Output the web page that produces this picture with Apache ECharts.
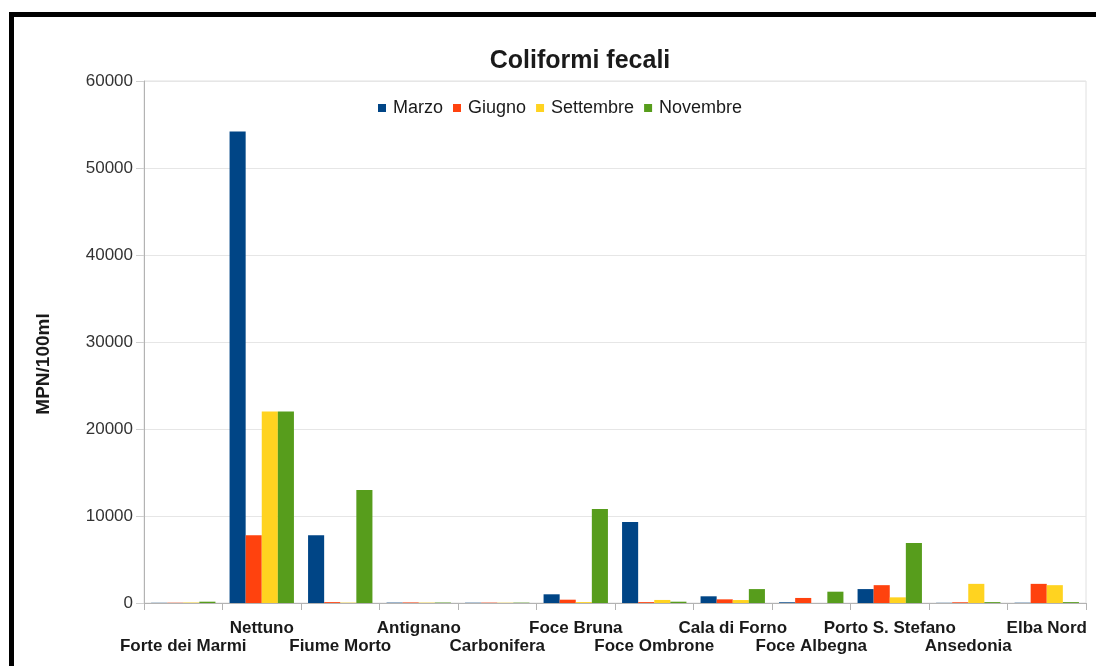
<!DOCTYPE html>
<html>
<head>
<meta charset="utf-8">
<script src="https://cdn.jsdelivr.net/npm/echarts@6/dist/echarts.min.js"></script>
<style>
  html, body { margin: 0; padding: 0; background: #ffffff; }
  #chart { width: 1096px; height: 666px; }
</style>
</head>
<body>
<div id="chart"></div>
<script>
// stazioni di campionamento
const stazioni = ["Forte dei Marmi", "Nettuno", "Fiume Morto", "Antignano", "Carbonifera", "Foce Bruna",
  "Foce Ombrone", "Cala di Forno", "Foce Albegna", "Porto S. Stefano", "Ansedonia", "Elba Nord"];

// MPN/100ml per mese
const marzo     = [20, 54200, 7800, 40, 30, 1000, 9300, 770, 80, 1600, 20, 30];
const giugno    = [30, 7800, 100, 60, 40, 380, 100, 420, 580, 2050, 80, 2200];
const settembre = [50, 22000, 40, 40, 30, 100, 350, 340, 0, 650, 2200, 2050];
const novembre  = [150, 22000, 13000, 50, 40, 10800, 150, 1600, 1300, 6900, 100, 100];

const yTicks = [0, 10000, 20000, 30000, 40000, 50000, 60000];

const colori = ["#004586", "#ff420e", "#ffd320", "#579d1c"];

var chart = echarts.init(document.getElementById("chart"));

const mk = (name, data, i) => ({
  name: name,
  type: "bar",
  data: data,
  barGap: "0%",
  barCategoryGap: "18%",
  itemStyle: { color: colori[i] }
});

var option = {
  animation: false,
  textStyle: { fontFamily: "Liberation Sans, Arial, sans-serif" },
  title: {
    text: "Coliformi fecali",
    left: 575,
    top: 44,
    textAlign: "center",
    textStyle: { fontSize: 25, fontWeight: "bold", color: "#1a1a1a" }
  },
  legend: {
    top: 94,
    left: 373,
    itemWidth: 8,
    itemHeight: 8,
    itemGap: 10,
    icon: "rect",
    textStyle: { fontSize: 18, color: "#1a1a1a", padding: [0, 0, 0, 2] },
    data: ["Marzo", "Giugno", "Settembre", "Novembre"]
  },
  grid: { left: 144, right: 10, top: 81, bottom: 63, show: true, borderColor: "#e0e0e0", borderWidth: 1 },
  xAxis: {
    type: "category",
    data: stazioni,
    axisLine: { lineStyle: { color: "#b3b3b3" } },
    axisTick: { show: true, length: 7, lineStyle: { color: "#b3b3b3" } },
    axisLabel: {
      interval: 0,
      margin: 16,
      fontSize: 17,
      fontWeight: "bold",
      color: "#1a1a1a",
      lineHeight: 18,
      formatter: function (v, i) { return i % 2 === 1 ? v : "\n" + v; }
    }
  },
  yAxis: {
    type: "value",
    min: yTicks[0],
    max: yTicks[yTicks.length - 1],
    interval: 10000,
    axisLine: { show: true, lineStyle: { color: "#b3b3b3" } },
    axisTick: { show: true, length: 8, lineStyle: { color: "#d0d0d0" } },
    axisLabel: { fontSize: 17, color: "#333333", margin: 11, formatter: function (v) { return String(v); } },
    splitLine: { lineStyle: { color: "#e6e6e6" } }
  },
  graphic: [
    { type: "rect", shape: { x: 9, y: 12, width: 1087, height: 5 }, style: { fill: "#000000" } },
    { type: "rect", shape: { x: 9, y: 12, width: 5, height: 654 }, style: { fill: "#000000" } },
    {
      type: "text", x: 44, y: 364, rotation: Math.PI / 2,
      style: { text: "MPN/100ml", font: "bold 19px Liberation Sans, Arial, sans-serif", fill: "#1a1a1a", align: "center", verticalAlign: "middle" }
    }
  ],
  series: [
    mk("Marzo", marzo, 0),
    mk("Giugno", giugno, 1),
    mk("Settembre", settembre, 2),
    mk("Novembre", novembre, 3)
  ]
};

chart.setOption(option);
</script>
</body>
</html>
